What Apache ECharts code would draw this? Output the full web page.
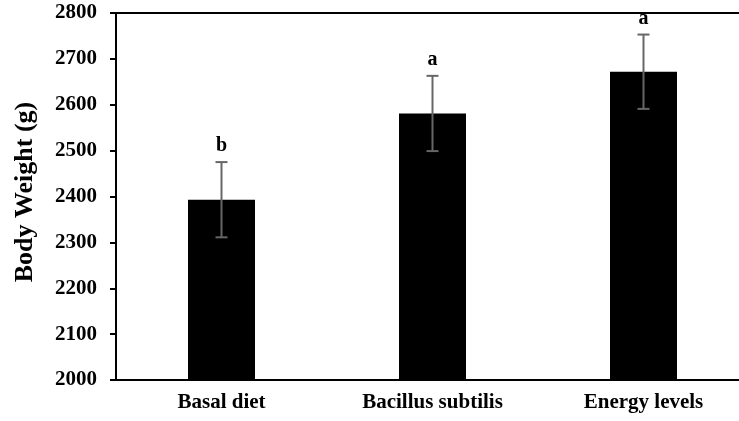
<!DOCTYPE html>
<html>
<head>
<meta charset="utf-8">
<script src="https://cdn.jsdelivr.net/npm/echarts@6/dist/echarts.min.js"></script>
<style>
html,body{margin:0;padding:0;background:#fff;overflow:hidden;width:739px;height:421px;}
#chart{width:749px;height:421px;}
</style>
</head>
<body>
<div id="chart"></div>
<script>
var categories = ['Basal diet', 'Bacillus subtilis', 'Energy levels'];
var means = [2393, 2581, 2672];
var errors = [82, 82, 81];
var letters = ['b', 'a', 'a'];
var yMin = 2000, yMax = 2800, yStep = 100;

var FONT = '"Liberation Serif", "Times New Roman", serif';
var chart = echarts.init(document.getElementById('chart'));

var errData = means.map(function (m, i) { return [i, m - errors[i], m + errors[i], letters[i]]; });

chart.setOption({
  animation: false,
  backgroundColor: '#fff',
  grid: { left: 116, right: 0, top: 13, bottom: 41, show: true, borderColor: '#000', borderWidth: 2, containLabel: false },
  xAxis: {
    type: 'category',
    data: categories,
    axisLine: { show: true, lineStyle: { color: '#000', width: 2 } },
    axisTick: { show: false },
    axisLabel: { color: '#000', fontFamily: FONT, fontWeight: 'bold', fontSize: 21, margin: 12 }
  },
  yAxis: {
    type: 'value',
    min: yMin, max: yMax, interval: yStep,
    name: 'Body Weight (g)',
    nameLocation: 'middle',
    nameGap: 78,
    nameTextStyle: { color: '#000', fontFamily: FONT, fontWeight: 'bold', fontSize: 26, padding: [0, 0, 0, 9] },
    axisLine: { show: true, lineStyle: { color: '#000', width: 2 } },
    axisTick: { show: true, length: 6, lineStyle: { color: '#000', width: 2 } },
    splitLine: { show: false },
    axisLabel: { color: '#000', fontFamily: FONT, fontWeight: 'bold', fontSize: 21, margin: 19, formatter: function (v) { return String(v); } }
  },
  series: [
    {
      type: 'bar',
      data: means,
      barWidth: 67,
      itemStyle: { color: '#000' }
    },
    {
      type: 'custom',
      data: errData,
      z: 10,
      renderItem: function (params, api) {
        var x = api.value(0);
        var lo = api.coord([x, api.value(1)]);
        var hi = api.coord([x, api.value(2)]);
        var cap = 6;
        var style = { stroke: '#666', lineWidth: 2 };
        return {
          type: 'group',
          children: [
            { type: 'line', shape: { x1: hi[0], y1: hi[1], x2: lo[0], y2: lo[1] }, style: style },
            { type: 'line', shape: { x1: hi[0] - cap, y1: hi[1], x2: hi[0] + cap, y2: hi[1] }, style: style },
            { type: 'line', shape: { x1: lo[0] - cap, y1: lo[1], x2: lo[0] + cap, y2: lo[1] }, style: style },
            { type: 'text', style: { text: api.value(3), x: hi[0], y: hi[1] - 16, align: 'center', verticalAlign: 'middle', fill: '#000', font: 'bold 20px ' + FONT } }
          ]
        };
      }
    }
  ]
});
</script>
</body>
</html>
